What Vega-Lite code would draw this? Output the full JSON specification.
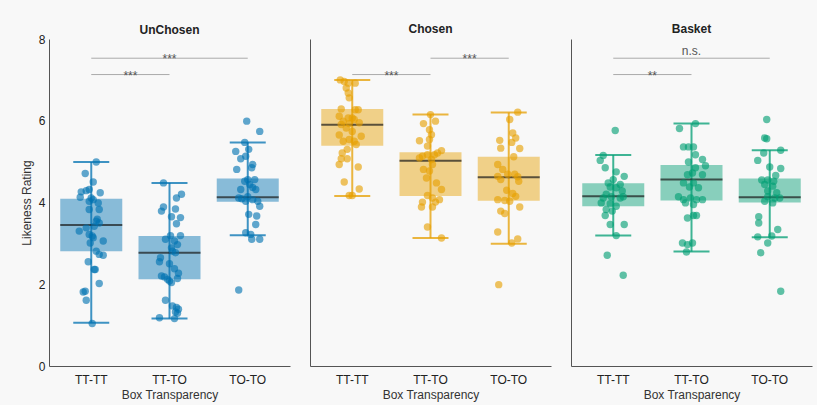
{
  "$schema": "https://vega.github.io/schema/vega-lite/v6.json",
  "padding": {"left": 20, "top": 23, "right": 5, "bottom": 5},
  "datasets": {
    "boxes": [
      {"panel": "UnChosen", "cond": "TT-TT", "lo": 1.06, "q1": 2.81, "med": 3.45, "q3": 4.09, "hi": 4.99},
      {"panel": "UnChosen", "cond": "TT-TO", "lo": 1.16, "q1": 2.12, "med": 2.77, "q3": 3.18, "hi": 4.48},
      {"panel": "UnChosen", "cond": "TO-TO", "lo": 3.20, "q1": 4.02, "med": 4.13, "q3": 4.59, "hi": 5.47},
      {"panel": "Chosen", "cond": "TT-TT", "lo": 4.16, "q1": 5.39, "med": 5.90, "q3": 6.29, "hi": 7.00},
      {"panel": "Chosen", "cond": "TT-TO", "lo": 3.13, "q1": 4.16, "med": 5.02, "q3": 5.23, "hi": 6.15},
      {"panel": "Chosen", "cond": "TO-TO", "lo": 2.99, "q1": 4.04, "med": 4.62, "q3": 5.12, "hi": 6.20},
      {"panel": "Basket", "cond": "TT-TT", "lo": 3.19, "q1": 3.91, "med": 4.15, "q3": 4.47, "hi": 5.16},
      {"panel": "Basket", "cond": "TT-TO", "lo": 2.80, "q1": 4.05, "med": 4.56, "q3": 4.92, "hi": 5.93},
      {"panel": "Basket", "cond": "TO-TO", "lo": 3.15, "q1": 4.00, "med": 4.13, "q3": 4.59, "hi": 5.28}
    ],
    "brackets": [
      {"panel": "UnChosen", "from": "TT-TT", "to": "TT-TO", "mid": "TT-TT", "span": "adjacent", "level": 7.13, "label": "***"},
      {"panel": "UnChosen", "from": "TT-TT", "to": "TO-TO", "mid": "TT-TO", "span": "wide", "level": 7.53, "label": "***"},
      {"panel": "Chosen", "from": "TT-TT", "to": "TT-TO", "mid": "TT-TT", "span": "adjacent", "level": 7.13, "label": "***"},
      {"panel": "Chosen", "from": "TT-TO", "to": "TO-TO", "mid": "TT-TO", "span": "adjacent", "level": 7.53, "label": "***"},
      {"panel": "Basket", "from": "TT-TT", "to": "TT-TO", "mid": "TT-TT", "span": "adjacent", "level": 7.13, "label": "**"},
      {"panel": "Basket", "from": "TT-TT", "to": "TO-TO", "mid": "TT-TO", "span": "wide", "level": 7.53, "label": "n.s."}
    ],
    "points": [
      {"panel":"UnChosen","cond":"TT-TT","rating":4.99,"jitter":5},
      {"panel":"UnChosen","cond":"TT-TT","rating":4.71,"jitter":-6},
      {"panel":"UnChosen","cond":"TT-TT","rating":4.50,"jitter":2},
      {"panel":"UnChosen","cond":"TT-TT","rating":4.32,"jitter":-2},
      {"panel":"UnChosen","cond":"TT-TT","rating":4.26,"jitter":-10},
      {"panel":"UnChosen","cond":"TT-TT","rating":4.29,"jitter":-5},
      {"panel":"UnChosen","cond":"TT-TT","rating":4.24,"jitter":9},
      {"panel":"UnChosen","cond":"TT-TT","rating":4.13,"jitter":-11},
      {"panel":"UnChosen","cond":"TT-TT","rating":4.11,"jitter":0},
      {"panel":"UnChosen","cond":"TT-TT","rating":4.07,"jitter":2},
      {"panel":"UnChosen","cond":"TT-TT","rating":4.03,"jitter":-2},
      {"panel":"UnChosen","cond":"TT-TT","rating":3.99,"jitter":7},
      {"panel":"UnChosen","cond":"TT-TT","rating":3.83,"jitter":-2},
      {"panel":"UnChosen","cond":"TT-TT","rating":3.83,"jitter":8},
      {"panel":"UnChosen","cond":"TT-TT","rating":3.59,"jitter":6},
      {"panel":"UnChosen","cond":"TT-TT","rating":3.50,"jitter":8},
      {"panel":"UnChosen","cond":"TT-TT","rating":3.54,"jitter":5},
      {"panel":"UnChosen","cond":"TT-TT","rating":3.42,"jitter":3},
      {"panel":"UnChosen","cond":"TT-TT","rating":3.38,"jitter":-5},
      {"panel":"UnChosen","cond":"TT-TT","rating":3.30,"jitter":-12},
      {"panel":"UnChosen","cond":"TT-TT","rating":3.22,"jitter":-2},
      {"panel":"UnChosen","cond":"TT-TT","rating":3.18,"jitter":1},
      {"panel":"UnChosen","cond":"TT-TT","rating":3.14,"jitter":2},
      {"panel":"UnChosen","cond":"TT-TT","rating":3.06,"jitter":12},
      {"panel":"UnChosen","cond":"TT-TT","rating":3.01,"jitter":-1},
      {"panel":"UnChosen","cond":"TT-TT","rating":2.81,"jitter":5},
      {"panel":"UnChosen","cond":"TT-TT","rating":2.73,"jitter":8},
      {"panel":"UnChosen","cond":"TT-TT","rating":2.71,"jitter":12},
      {"panel":"UnChosen","cond":"TT-TT","rating":2.55,"jitter":-3},
      {"panel":"UnChosen","cond":"TT-TT","rating":2.36,"jitter":3},
      {"panel":"UnChosen","cond":"TT-TT","rating":2.36,"jitter":4},
      {"panel":"UnChosen","cond":"TT-TT","rating":2.02,"jitter":8},
      {"panel":"UnChosen","cond":"TT-TT","rating":1.81,"jitter":-8},
      {"panel":"UnChosen","cond":"TT-TT","rating":1.83,"jitter":-6},
      {"panel":"UnChosen","cond":"TT-TT","rating":1.61,"jitter":-5},
      {"panel":"UnChosen","cond":"TT-TT","rating":1.04,"jitter":1},
      {"panel":"UnChosen","cond":"TT-TO","rating":4.48,"jitter":-6},
      {"panel":"UnChosen","cond":"TT-TO","rating":4.20,"jitter":12},
      {"panel":"UnChosen","cond":"TT-TO","rating":4.11,"jitter":7},
      {"panel":"UnChosen","cond":"TT-TO","rating":3.89,"jitter":-6},
      {"panel":"UnChosen","cond":"TT-TO","rating":3.79,"jitter":-8},
      {"panel":"UnChosen","cond":"TT-TO","rating":3.84,"jitter":6},
      {"panel":"UnChosen","cond":"TT-TO","rating":3.65,"jitter":2},
      {"panel":"UnChosen","cond":"TT-TO","rating":3.63,"jitter":11},
      {"panel":"UnChosen","cond":"TT-TO","rating":3.48,"jitter":7},
      {"panel":"UnChosen","cond":"TT-TO","rating":3.19,"jitter":1},
      {"panel":"UnChosen","cond":"TT-TO","rating":3.19,"jitter":11},
      {"panel":"UnChosen","cond":"TT-TO","rating":3.10,"jitter":-4},
      {"panel":"UnChosen","cond":"TT-TO","rating":3.06,"jitter":5},
      {"panel":"UnChosen","cond":"TT-TO","rating":2.97,"jitter":8},
      {"panel":"UnChosen","cond":"TT-TO","rating":2.89,"jitter":2},
      {"panel":"UnChosen","cond":"TT-TO","rating":2.81,"jitter":3},
      {"panel":"UnChosen","cond":"TT-TO","rating":2.77,"jitter":6},
      {"panel":"UnChosen","cond":"TT-TO","rating":2.65,"jitter":-9},
      {"panel":"UnChosen","cond":"TT-TO","rating":2.55,"jitter":-10},
      {"panel":"UnChosen","cond":"TT-TO","rating":2.50,"jitter":0},
      {"panel":"UnChosen","cond":"TT-TO","rating":2.38,"jitter":5},
      {"panel":"UnChosen","cond":"TT-TO","rating":2.27,"jitter":9},
      {"panel":"UnChosen","cond":"TT-TO","rating":2.20,"jitter":-8},
      {"panel":"UnChosen","cond":"TT-TO","rating":2.18,"jitter":-5},
      {"panel":"UnChosen","cond":"TT-TO","rating":2.12,"jitter":-2},
      {"panel":"UnChosen","cond":"TT-TO","rating":2.08,"jitter":0},
      {"panel":"UnChosen","cond":"TT-TO","rating":2.14,"jitter":8},
      {"panel":"UnChosen","cond":"TT-TO","rating":2.04,"jitter":2},
      {"panel":"UnChosen","cond":"TT-TO","rating":1.61,"jitter":-4},
      {"panel":"UnChosen","cond":"TT-TO","rating":1.47,"jitter":3},
      {"panel":"UnChosen","cond":"TT-TO","rating":1.43,"jitter":7},
      {"panel":"UnChosen","cond":"TT-TO","rating":1.39,"jitter":9},
      {"panel":"UnChosen","cond":"TT-TO","rating":1.32,"jitter":6},
      {"panel":"UnChosen","cond":"TT-TO","rating":1.18,"jitter":-10},
      {"panel":"UnChosen","cond":"TT-TO","rating":1.16,"jitter":5},
      {"panel":"UnChosen","cond":"TT-TO","rating":1.29,"jitter":8},
      {"panel":"UnChosen","cond":"TO-TO","rating":5.99,"jitter":-1},
      {"panel":"UnChosen","cond":"TO-TO","rating":5.74,"jitter":12},
      {"panel":"UnChosen","cond":"TO-TO","rating":5.47,"jitter":-3},
      {"panel":"UnChosen","cond":"TO-TO","rating":5.25,"jitter":-12},
      {"panel":"UnChosen","cond":"TO-TO","rating":5.30,"jitter":1},
      {"panel":"UnChosen","cond":"TO-TO","rating":5.07,"jitter":-7},
      {"panel":"UnChosen","cond":"TO-TO","rating":5.13,"jitter":-2},
      {"panel":"UnChosen","cond":"TO-TO","rating":4.93,"jitter":5},
      {"panel":"UnChosen","cond":"TO-TO","rating":4.85,"jitter":4},
      {"panel":"UnChosen","cond":"TO-TO","rating":4.81,"jitter":-11},
      {"panel":"UnChosen","cond":"TO-TO","rating":4.56,"jitter":0},
      {"panel":"UnChosen","cond":"TO-TO","rating":4.56,"jitter":7},
      {"panel":"UnChosen","cond":"TO-TO","rating":4.52,"jitter":-3},
      {"panel":"UnChosen","cond":"TO-TO","rating":4.44,"jitter":2},
      {"panel":"UnChosen","cond":"TO-TO","rating":4.37,"jitter":5},
      {"panel":"UnChosen","cond":"TO-TO","rating":4.32,"jitter":-7},
      {"panel":"UnChosen","cond":"TO-TO","rating":4.32,"jitter":8},
      {"panel":"UnChosen","cond":"TO-TO","rating":4.11,"jitter":-9},
      {"panel":"UnChosen","cond":"TO-TO","rating":4.09,"jitter":-6},
      {"panel":"UnChosen","cond":"TO-TO","rating":4.14,"jitter":0},
      {"panel":"UnChosen","cond":"TO-TO","rating":4.07,"jitter":5},
      {"panel":"UnChosen","cond":"TO-TO","rating":4.03,"jitter":10},
      {"panel":"UnChosen","cond":"TO-TO","rating":4.03,"jitter":-2},
      {"panel":"UnChosen","cond":"TO-TO","rating":3.91,"jitter":12},
      {"panel":"UnChosen","cond":"TO-TO","rating":3.71,"jitter":1},
      {"panel":"UnChosen","cond":"TO-TO","rating":3.67,"jitter":9},
      {"panel":"UnChosen","cond":"TO-TO","rating":3.46,"jitter":8},
      {"panel":"UnChosen","cond":"TO-TO","rating":3.26,"jitter":-2},
      {"panel":"UnChosen","cond":"TO-TO","rating":3.22,"jitter":3},
      {"panel":"UnChosen","cond":"TO-TO","rating":3.10,"jitter":4},
      {"panel":"UnChosen","cond":"TO-TO","rating":3.10,"jitter":12},
      {"panel":"UnChosen","cond":"TO-TO","rating":1.86,"jitter":-9},
      {"panel":"Chosen","cond":"TT-TT","rating":7.00,"jitter":-12},
      {"panel":"Chosen","cond":"TT-TT","rating":6.96,"jitter":-8},
      {"panel":"Chosen","cond":"TT-TT","rating":6.92,"jitter":-4},
      {"panel":"Chosen","cond":"TT-TT","rating":6.92,"jitter":3},
      {"panel":"Chosen","cond":"TT-TT","rating":6.80,"jitter":-6},
      {"panel":"Chosen","cond":"TT-TT","rating":6.68,"jitter":-4},
      {"panel":"Chosen","cond":"TT-TT","rating":6.56,"jitter":-3},
      {"panel":"Chosen","cond":"TT-TT","rating":6.29,"jitter":-11},
      {"panel":"Chosen","cond":"TT-TT","rating":6.27,"jitter":3},
      {"panel":"Chosen","cond":"TT-TT","rating":6.27,"jitter":6},
      {"panel":"Chosen","cond":"TT-TT","rating":6.11,"jitter":-13},
      {"panel":"Chosen","cond":"TT-TT","rating":6.07,"jitter":-4},
      {"panel":"Chosen","cond":"TT-TT","rating":6.07,"jitter":0},
      {"panel":"Chosen","cond":"TT-TT","rating":5.99,"jitter":-9},
      {"panel":"Chosen","cond":"TT-TT","rating":6.03,"jitter":2},
      {"panel":"Chosen","cond":"TT-TT","rating":5.93,"jitter":-3},
      {"panel":"Chosen","cond":"TT-TT","rating":5.95,"jitter":7},
      {"panel":"Chosen","cond":"TT-TT","rating":5.91,"jitter":-11},
      {"panel":"Chosen","cond":"TT-TT","rating":5.82,"jitter":-6},
      {"panel":"Chosen","cond":"TT-TT","rating":5.74,"jitter":0},
      {"panel":"Chosen","cond":"TT-TT","rating":5.65,"jitter":-13},
      {"panel":"Chosen","cond":"TT-TT","rating":5.62,"jitter":9},
      {"panel":"Chosen","cond":"TT-TT","rating":5.54,"jitter":-3},
      {"panel":"Chosen","cond":"TT-TT","rating":5.50,"jitter":-9},
      {"panel":"Chosen","cond":"TT-TT","rating":5.50,"jitter":2},
      {"panel":"Chosen","cond":"TT-TT","rating":5.42,"jitter":4},
      {"panel":"Chosen","cond":"TT-TT","rating":5.30,"jitter":-5},
      {"panel":"Chosen","cond":"TT-TT","rating":5.21,"jitter":-10},
      {"panel":"Chosen","cond":"TT-TT","rating":5.07,"jitter":-11},
      {"panel":"Chosen","cond":"TT-TT","rating":5.07,"jitter":-5},
      {"panel":"Chosen","cond":"TT-TT","rating":4.93,"jitter":-13},
      {"panel":"Chosen","cond":"TT-TT","rating":4.87,"jitter":6},
      {"panel":"Chosen","cond":"TT-TT","rating":4.50,"jitter":-8},
      {"panel":"Chosen","cond":"TT-TT","rating":4.33,"jitter":7},
      {"panel":"Chosen","cond":"TT-TT","rating":4.17,"jitter":-3},
      {"panel":"Chosen","cond":"TT-TT","rating":4.17,"jitter":0},
      {"panel":"Chosen","cond":"TT-TO","rating":6.15,"jitter":0},
      {"panel":"Chosen","cond":"TT-TO","rating":5.93,"jitter":-7},
      {"panel":"Chosen","cond":"TT-TO","rating":5.99,"jitter":5},
      {"panel":"Chosen","cond":"TT-TO","rating":5.78,"jitter":-1},
      {"panel":"Chosen","cond":"TT-TO","rating":5.66,"jitter":1},
      {"panel":"Chosen","cond":"TT-TO","rating":5.51,"jitter":-11},
      {"panel":"Chosen","cond":"TT-TO","rating":5.54,"jitter":-1},
      {"panel":"Chosen","cond":"TT-TO","rating":5.38,"jitter":-3},
      {"panel":"Chosen","cond":"TT-TO","rating":5.27,"jitter":11},
      {"panel":"Chosen","cond":"TT-TO","rating":5.13,"jitter":-8},
      {"panel":"Chosen","cond":"TT-TO","rating":5.17,"jitter":-3},
      {"panel":"Chosen","cond":"TT-TO","rating":5.17,"jitter":4},
      {"panel":"Chosen","cond":"TT-TO","rating":5.21,"jitter":7},
      {"panel":"Chosen","cond":"TT-TO","rating":5.09,"jitter":-11},
      {"panel":"Chosen","cond":"TT-TO","rating":5.05,"jitter":1},
      {"panel":"Chosen","cond":"TT-TO","rating":4.93,"jitter":2},
      {"panel":"Chosen","cond":"TT-TO","rating":4.81,"jitter":-7},
      {"panel":"Chosen","cond":"TT-TO","rating":4.77,"jitter":-1},
      {"panel":"Chosen","cond":"TT-TO","rating":4.60,"jitter":-4},
      {"panel":"Chosen","cond":"TT-TO","rating":4.48,"jitter":6},
      {"panel":"Chosen","cond":"TT-TO","rating":4.32,"jitter":11},
      {"panel":"Chosen","cond":"TT-TO","rating":4.17,"jitter":-3},
      {"panel":"Chosen","cond":"TT-TO","rating":4.11,"jitter":2},
      {"panel":"Chosen","cond":"TT-TO","rating":4.07,"jitter":9},
      {"panel":"Chosen","cond":"TT-TO","rating":4.01,"jitter":-8},
      {"panel":"Chosen","cond":"TT-TO","rating":4.01,"jitter":5},
      {"panel":"Chosen","cond":"TT-TO","rating":3.89,"jitter":-9},
      {"panel":"Chosen","cond":"TT-TO","rating":3.89,"jitter":2},
      {"panel":"Chosen","cond":"TT-TO","rating":3.40,"jitter":-3},
      {"panel":"Chosen","cond":"TT-TO","rating":3.13,"jitter":11},
      {"panel":"Chosen","cond":"TO-TO","rating":6.21,"jitter":9},
      {"panel":"Chosen","cond":"TO-TO","rating":6.03,"jitter":1},
      {"panel":"Chosen","cond":"TO-TO","rating":5.70,"jitter":4},
      {"panel":"Chosen","cond":"TO-TO","rating":5.58,"jitter":7},
      {"panel":"Chosen","cond":"TO-TO","rating":5.52,"jitter":-9},
      {"panel":"Chosen","cond":"TO-TO","rating":5.47,"jitter":3},
      {"panel":"Chosen","cond":"TO-TO","rating":5.33,"jitter":-8},
      {"panel":"Chosen","cond":"TO-TO","rating":5.32,"jitter":11},
      {"panel":"Chosen","cond":"TO-TO","rating":5.12,"jitter":5},
      {"panel":"Chosen","cond":"TO-TO","rating":4.93,"jitter":-11},
      {"panel":"Chosen","cond":"TO-TO","rating":4.81,"jitter":-6},
      {"panel":"Chosen","cond":"TO-TO","rating":4.64,"jitter":-11},
      {"panel":"Chosen","cond":"TO-TO","rating":4.69,"jitter":-1},
      {"panel":"Chosen","cond":"TO-TO","rating":4.69,"jitter":6},
      {"panel":"Chosen","cond":"TO-TO","rating":4.63,"jitter":9},
      {"panel":"Chosen","cond":"TO-TO","rating":4.52,"jitter":10},
      {"panel":"Chosen","cond":"TO-TO","rating":4.56,"jitter":-8},
      {"panel":"Chosen","cond":"TO-TO","rating":4.30,"jitter":-2},
      {"panel":"Chosen","cond":"TO-TO","rating":4.22,"jitter":4},
      {"panel":"Chosen","cond":"TO-TO","rating":4.15,"jitter":7},
      {"panel":"Chosen","cond":"TO-TO","rating":4.07,"jitter":-11},
      {"panel":"Chosen","cond":"TO-TO","rating":4.05,"jitter":-4},
      {"panel":"Chosen","cond":"TO-TO","rating":4.03,"jitter":1},
      {"panel":"Chosen","cond":"TO-TO","rating":3.89,"jitter":11},
      {"panel":"Chosen","cond":"TO-TO","rating":3.79,"jitter":-8},
      {"panel":"Chosen","cond":"TO-TO","rating":3.73,"jitter":-4},
      {"panel":"Chosen","cond":"TO-TO","rating":3.28,"jitter":-11},
      {"panel":"Chosen","cond":"TO-TO","rating":3.11,"jitter":9},
      {"panel":"Chosen","cond":"TO-TO","rating":3.01,"jitter":3},
      {"panel":"Chosen","cond":"TO-TO","rating":1.99,"jitter":-10},
      {"panel":"Basket","cond":"TT-TT","rating":5.76,"jitter":2},
      {"panel":"Basket","cond":"TT-TT","rating":5.15,"jitter":-10},
      {"panel":"Basket","cond":"TT-TT","rating":5.03,"jitter":-13},
      {"panel":"Basket","cond":"TT-TT","rating":4.85,"jitter":-8},
      {"panel":"Basket","cond":"TT-TT","rating":4.75,"jitter":3},
      {"panel":"Basket","cond":"TT-TT","rating":4.64,"jitter":11},
      {"panel":"Basket","cond":"TT-TT","rating":4.56,"jitter":0},
      {"panel":"Basket","cond":"TT-TT","rating":4.48,"jitter":-5},
      {"panel":"Basket","cond":"TT-TT","rating":4.44,"jitter":7},
      {"panel":"Basket","cond":"TT-TT","rating":4.38,"jitter":-3},
      {"panel":"Basket","cond":"TT-TT","rating":4.36,"jitter":3},
      {"panel":"Basket","cond":"TT-TT","rating":4.28,"jitter":9},
      {"panel":"Basket","cond":"TT-TT","rating":4.20,"jitter":-7},
      {"panel":"Basket","cond":"TT-TT","rating":4.11,"jitter":-10},
      {"panel":"Basket","cond":"TT-TT","rating":4.14,"jitter":-2},
      {"panel":"Basket","cond":"TT-TT","rating":4.11,"jitter":7},
      {"panel":"Basket","cond":"TT-TT","rating":4.14,"jitter":10},
      {"panel":"Basket","cond":"TT-TT","rating":3.99,"jitter":-12},
      {"panel":"Basket","cond":"TT-TT","rating":3.97,"jitter":-3},
      {"panel":"Basket","cond":"TT-TT","rating":3.91,"jitter":3},
      {"panel":"Basket","cond":"TT-TT","rating":3.83,"jitter":-7},
      {"panel":"Basket","cond":"TT-TT","rating":3.79,"jitter":-1},
      {"panel":"Basket","cond":"TT-TT","rating":3.68,"jitter":-8},
      {"panel":"Basket","cond":"TT-TT","rating":3.46,"jitter":-3},
      {"panel":"Basket","cond":"TT-TT","rating":3.46,"jitter":11},
      {"panel":"Basket","cond":"TT-TT","rating":3.19,"jitter":3},
      {"panel":"Basket","cond":"TT-TT","rating":2.71,"jitter":-6},
      {"panel":"Basket","cond":"TT-TT","rating":2.22,"jitter":10},
      {"panel":"Basket","cond":"TT-TO","rating":5.93,"jitter":4},
      {"panel":"Basket","cond":"TT-TO","rating":5.81,"jitter":-12},
      {"panel":"Basket","cond":"TT-TO","rating":5.36,"jitter":-8},
      {"panel":"Basket","cond":"TT-TO","rating":5.36,"jitter":-3},
      {"panel":"Basket","cond":"TT-TO","rating":5.36,"jitter":2},
      {"panel":"Basket","cond":"TT-TO","rating":5.17,"jitter":4},
      {"panel":"Basket","cond":"TT-TO","rating":5.05,"jitter":11},
      {"panel":"Basket","cond":"TT-TO","rating":4.99,"jitter":-3},
      {"panel":"Basket","cond":"TT-TO","rating":4.90,"jitter":14},
      {"panel":"Basket","cond":"TT-TO","rating":4.85,"jitter":4},
      {"panel":"Basket","cond":"TT-TO","rating":4.68,"jitter":-4},
      {"panel":"Basket","cond":"TT-TO","rating":4.72,"jitter":1},
      {"panel":"Basket","cond":"TT-TO","rating":4.68,"jitter":11},
      {"panel":"Basket","cond":"TT-TO","rating":4.48,"jitter":-8},
      {"panel":"Basket","cond":"TT-TO","rating":4.48,"jitter":2},
      {"panel":"Basket","cond":"TT-TO","rating":4.38,"jitter":-2},
      {"panel":"Basket","cond":"TT-TO","rating":4.36,"jitter":7},
      {"panel":"Basket","cond":"TT-TO","rating":4.14,"jitter":-13},
      {"panel":"Basket","cond":"TT-TO","rating":4.07,"jitter":-8},
      {"panel":"Basket","cond":"TT-TO","rating":4.11,"jitter":-1},
      {"panel":"Basket","cond":"TT-TO","rating":4.07,"jitter":5},
      {"panel":"Basket","cond":"TT-TO","rating":4.07,"jitter":11},
      {"panel":"Basket","cond":"TT-TO","rating":3.99,"jitter":-6},
      {"panel":"Basket","cond":"TT-TO","rating":3.95,"jitter":2},
      {"panel":"Basket","cond":"TT-TO","rating":3.68,"jitter":2},
      {"panel":"Basket","cond":"TT-TO","rating":3.62,"jitter":-4},
      {"panel":"Basket","cond":"TT-TO","rating":3.68,"jitter":5},
      {"panel":"Basket","cond":"TT-TO","rating":3.01,"jitter":-9},
      {"panel":"Basket","cond":"TT-TO","rating":3.01,"jitter":1},
      {"panel":"Basket","cond":"TT-TO","rating":2.97,"jitter":-4},
      {"panel":"Basket","cond":"TT-TO","rating":2.79,"jitter":-5},
      {"panel":"Basket","cond":"TO-TO","rating":6.03,"jitter":-3},
      {"panel":"Basket","cond":"TO-TO","rating":5.58,"jitter":-5},
      {"panel":"Basket","cond":"TO-TO","rating":5.56,"jitter":-3},
      {"panel":"Basket","cond":"TO-TO","rating":5.28,"jitter":11},
      {"panel":"Basket","cond":"TO-TO","rating":5.21,"jitter":-6},
      {"panel":"Basket","cond":"TO-TO","rating":5.03,"jitter":-12},
      {"panel":"Basket","cond":"TO-TO","rating":4.87,"jitter":0},
      {"panel":"Basket","cond":"TO-TO","rating":4.83,"jitter":11},
      {"panel":"Basket","cond":"TO-TO","rating":4.66,"jitter":6},
      {"panel":"Basket","cond":"TO-TO","rating":4.55,"jitter":-8},
      {"panel":"Basket","cond":"TO-TO","rating":4.55,"jitter":-2},
      {"panel":"Basket","cond":"TO-TO","rating":4.52,"jitter":4},
      {"panel":"Basket","cond":"TO-TO","rating":4.44,"jitter":-5},
      {"panel":"Basket","cond":"TO-TO","rating":4.40,"jitter":3},
      {"panel":"Basket","cond":"TO-TO","rating":4.28,"jitter":-2},
      {"panel":"Basket","cond":"TO-TO","rating":4.24,"jitter":7},
      {"panel":"Basket","cond":"TO-TO","rating":4.14,"jitter":-2},
      {"panel":"Basket","cond":"TO-TO","rating":4.11,"jitter":5},
      {"panel":"Basket","cond":"TO-TO","rating":4.11,"jitter":10},
      {"panel":"Basket","cond":"TO-TO","rating":4.03,"jitter":-5},
      {"panel":"Basket","cond":"TO-TO","rating":3.99,"jitter":3},
      {"panel":"Basket","cond":"TO-TO","rating":3.65,"jitter":-11},
      {"panel":"Basket","cond":"TO-TO","rating":3.50,"jitter":-11},
      {"panel":"Basket","cond":"TO-TO","rating":3.34,"jitter":8},
      {"panel":"Basket","cond":"TO-TO","rating":3.16,"jitter":-12},
      {"panel":"Basket","cond":"TO-TO","rating":3.18,"jitter":2},
      {"panel":"Basket","cond":"TO-TO","rating":3.01,"jitter":-2},
      {"panel":"Basket","cond":"TO-TO","rating":2.77,"jitter":-9},
      {"panel":"Basket","cond":"TO-TO","rating":1.83,"jitter":11}
    ]
  },
  "hconcat": [
    {
      "width": 241, "height": 327,
      "title": {"text": "UnChosen", "offset": -4},
      "encoding": {
        "x": {"field": "cond", "type": "nominal", "scale": {"domain": ["TT-TT", "TT-TO", "TO-TO"], "paddingInner": 0, "paddingOuter": 0.04}, "axis": {"title": "Box Transparency", "labelAngle": 0}},
        "color": {"field": "panel", "type": "nominal", "scale": {"domain": ["UnChosen", "Chosen", "Basket"], "range": ["#0072B2", "#E69F00", "#009E73"]}, "legend": null}
      },
      "layer": [
        {"data": {"name": "boxes"}, "transform": [{"filter": "datum.panel == 'UnChosen'"}], "mark": {"type": "rule", "strokeWidth": 2, "opacity": 0.75},
         "encoding": {"y": {"field": "lo", "type": "quantitative", "scale": {"domain": [0, 8], "nice": false}, "axis": {"title": "Likeness Rating", "values": [0, 2, 4, 6, 8], "labelFlush": false, "labelPadding": 4, "titlePadding": 5}}, "y2": {"field": "hi"}}},
        {"data": {"name": "boxes"}, "transform": [{"filter": "datum.panel == 'UnChosen'"}], "mark": {"type": "tick", "size": 36, "thickness": 2, "opacity": 0.75}, "encoding": {"y": {"field": "lo", "type": "quantitative"}}},
        {"data": {"name": "boxes"}, "transform": [{"filter": "datum.panel == 'UnChosen'"}], "mark": {"type": "tick", "size": 36, "thickness": 2, "opacity": 0.75}, "encoding": {"y": {"field": "hi", "type": "quantitative"}}},
        {"data": {"name": "boxes"}, "transform": [{"filter": "datum.panel == 'UnChosen'"}], "mark": {"type": "bar", "size": 62, "opacity": 0.45}, "encoding": {"y": {"field": "q1", "type": "quantitative"}, "y2": {"field": "q3"}}},
        {"data": {"name": "boxes"}, "transform": [{"filter": "datum.panel == 'UnChosen'"}], "mark": {"type": "tick", "size": 62, "thickness": 2}, "encoding": {"y": {"field": "med", "type": "quantitative"}, "color": {"value": "#1a1a1a"}}},
        {"data": {"name": "points"}, "transform": [{"filter": "datum.panel == 'UnChosen'"}], "mark": {"type": "circle", "size": 55, "opacity": 0.62},
         "encoding": {"x": {"field": "cond", "type": "nominal", "bandPosition": 0}, "xOffset": {"field": "jitter", "type": "quantitative", "scale": {"domain": [-15, 15], "range": [24.1, 54.1]}}, "y": {"field": "rating", "type": "quantitative"}}},
        {"data": {"name": "brackets"}, "transform": [{"filter": "datum.panel == 'UnChosen'"}], "mark": {"type": "rule", "strokeWidth": 1},
         "encoding": {"x": {"field": "from", "type": "nominal"}, "x2": {"field": "to"}, "y": {"field": "level", "type": "quantitative"}, "color": {"value": "#aaaaaa"}}},
        {"data": {"name": "brackets"}, "transform": [{"filter": "datum.panel == 'UnChosen' && datum.span == 'adjacent'"}], "mark": {"type": "text", "fontSize": 12, "baseline": "alphabetic", "dy": 5},
         "encoding": {"x": {"field": "mid", "type": "nominal", "bandPosition": 1}, "y": {"field": "level", "type": "quantitative"}, "text": {"field": "label"}, "color": {"value": "#555555"}}},
        {"data": {"name": "brackets"}, "transform": [{"filter": "datum.panel == 'UnChosen' && datum.span == 'wide'"}], "mark": {"type": "text", "fontSize": 12, "baseline": "alphabetic", "dy": 5},
         "encoding": {"x": {"field": "mid", "type": "nominal", "bandPosition": 0.5}, "y": {"field": "level", "type": "quantitative"}, "text": {"field": "label"}, "color": {"value": "#555555"}}}
      ]
    },
    {
      "width": 241, "height": 327,
      "title": {"text": "Chosen", "offset": 3},
      "encoding": {
        "x": {"field": "cond", "type": "nominal", "scale": {"domain": ["TT-TT", "TT-TO", "TO-TO"], "paddingInner": 0, "paddingOuter": 0.04}, "axis": {"title": "Box Transparency", "labelAngle": 0}},
        "color": {"field": "panel", "type": "nominal", "scale": {"domain": ["UnChosen", "Chosen", "Basket"], "range": ["#0072B2", "#E69F00", "#009E73"]}, "legend": null}
      },
      "layer": [
        {"data": {"name": "boxes"}, "transform": [{"filter": "datum.panel == 'Chosen'"}], "mark": {"type": "rule", "strokeWidth": 2, "opacity": 0.75},
         "encoding": {"y": {"field": "lo", "type": "quantitative", "scale": {"domain": [0, 8], "nice": false}, "axis": {"title": null, "labels": false, "ticks": false, "values": [0, 2, 4, 6, 8]}}, "y2": {"field": "hi"}}},
        {"data": {"name": "boxes"}, "transform": [{"filter": "datum.panel == 'Chosen'"}], "mark": {"type": "tick", "size": 36, "thickness": 2, "opacity": 0.75}, "encoding": {"y": {"field": "lo", "type": "quantitative"}}},
        {"data": {"name": "boxes"}, "transform": [{"filter": "datum.panel == 'Chosen'"}], "mark": {"type": "tick", "size": 36, "thickness": 2, "opacity": 0.75}, "encoding": {"y": {"field": "hi", "type": "quantitative"}}},
        {"data": {"name": "boxes"}, "transform": [{"filter": "datum.panel == 'Chosen'"}], "mark": {"type": "bar", "size": 62, "opacity": 0.45}, "encoding": {"y": {"field": "q1", "type": "quantitative"}, "y2": {"field": "q3"}}},
        {"data": {"name": "boxes"}, "transform": [{"filter": "datum.panel == 'Chosen'"}], "mark": {"type": "tick", "size": 62, "thickness": 2}, "encoding": {"y": {"field": "med", "type": "quantitative"}, "color": {"value": "#1a1a1a"}}},
        {"data": {"name": "points"}, "transform": [{"filter": "datum.panel == 'Chosen'"}], "mark": {"type": "circle", "size": 55, "opacity": 0.62},
         "encoding": {"x": {"field": "cond", "type": "nominal", "bandPosition": 0}, "xOffset": {"field": "jitter", "type": "quantitative", "scale": {"domain": [-15, 15], "range": [24.1, 54.1]}}, "y": {"field": "rating", "type": "quantitative"}}},
        {"data": {"name": "brackets"}, "transform": [{"filter": "datum.panel == 'Chosen'"}], "mark": {"type": "rule", "strokeWidth": 1},
         "encoding": {"x": {"field": "from", "type": "nominal"}, "x2": {"field": "to"}, "y": {"field": "level", "type": "quantitative"}, "color": {"value": "#aaaaaa"}}},
        {"data": {"name": "brackets"}, "transform": [{"filter": "datum.panel == 'Chosen' && datum.span == 'adjacent'"}], "mark": {"type": "text", "fontSize": 12, "baseline": "alphabetic", "dy": 5},
         "encoding": {"x": {"field": "mid", "type": "nominal", "bandPosition": 1}, "y": {"field": "level", "type": "quantitative"}, "text": {"field": "label"}, "color": {"value": "#555555"}}}
      ]
    },
    {
      "width": 241, "height": 327,
      "title": {"text": "Basket", "offset": 3},
      "encoding": {
        "x": {"field": "cond", "type": "nominal", "scale": {"domain": ["TT-TT", "TT-TO", "TO-TO"], "paddingInner": 0, "paddingOuter": 0.04}, "axis": {"title": "Box Transparency", "labelAngle": 0}},
        "color": {"field": "panel", "type": "nominal", "scale": {"domain": ["UnChosen", "Chosen", "Basket"], "range": ["#0072B2", "#E69F00", "#009E73"]}, "legend": null}
      },
      "layer": [
        {"data": {"name": "boxes"}, "transform": [{"filter": "datum.panel == 'Basket'"}], "mark": {"type": "rule", "strokeWidth": 2, "opacity": 0.75},
         "encoding": {"y": {"field": "lo", "type": "quantitative", "scale": {"domain": [0, 8], "nice": false}, "axis": {"title": null, "labels": false, "ticks": false, "values": [0, 2, 4, 6, 8]}}, "y2": {"field": "hi"}}},
        {"data": {"name": "boxes"}, "transform": [{"filter": "datum.panel == 'Basket'"}], "mark": {"type": "tick", "size": 36, "thickness": 2, "opacity": 0.75}, "encoding": {"y": {"field": "lo", "type": "quantitative"}}},
        {"data": {"name": "boxes"}, "transform": [{"filter": "datum.panel == 'Basket'"}], "mark": {"type": "tick", "size": 36, "thickness": 2, "opacity": 0.75}, "encoding": {"y": {"field": "hi", "type": "quantitative"}}},
        {"data": {"name": "boxes"}, "transform": [{"filter": "datum.panel == 'Basket'"}], "mark": {"type": "bar", "size": 62, "opacity": 0.45}, "encoding": {"y": {"field": "q1", "type": "quantitative"}, "y2": {"field": "q3"}}},
        {"data": {"name": "boxes"}, "transform": [{"filter": "datum.panel == 'Basket'"}], "mark": {"type": "tick", "size": 62, "thickness": 2}, "encoding": {"y": {"field": "med", "type": "quantitative"}, "color": {"value": "#1a1a1a"}}},
        {"data": {"name": "points"}, "transform": [{"filter": "datum.panel == 'Basket'"}], "mark": {"type": "circle", "size": 55, "opacity": 0.62},
         "encoding": {"x": {"field": "cond", "type": "nominal", "bandPosition": 0}, "xOffset": {"field": "jitter", "type": "quantitative", "scale": {"domain": [-15, 15], "range": [24.1, 54.1]}}, "y": {"field": "rating", "type": "quantitative"}}},
        {"data": {"name": "brackets"}, "transform": [{"filter": "datum.panel == 'Basket'"}], "mark": {"type": "rule", "strokeWidth": 1},
         "encoding": {"x": {"field": "from", "type": "nominal"}, "x2": {"field": "to"}, "y": {"field": "level", "type": "quantitative"}, "color": {"value": "#aaaaaa"}}},
        {"data": {"name": "brackets"}, "transform": [{"filter": "datum.panel == 'Basket' && datum.span == 'adjacent'"}], "mark": {"type": "text", "fontSize": 12, "baseline": "alphabetic", "dy": 5},
         "encoding": {"x": {"field": "mid", "type": "nominal", "bandPosition": 1}, "y": {"field": "level", "type": "quantitative"}, "text": {"field": "label"}, "color": {"value": "#555555"}}},
        {"data": {"name": "brackets"}, "transform": [{"filter": "datum.panel == 'Basket' && datum.span == 'wide'"}], "mark": {"type": "text", "fontSize": 12, "baseline": "alphabetic", "dy": -3},
         "encoding": {"x": {"field": "mid", "type": "nominal", "bandPosition": 0.5}, "y": {"field": "level", "type": "quantitative"}, "text": {"field": "label"}, "color": {"value": "#555555"}}}
      ]
    }
  ],
  "spacing": 20,
  "resolve": {"scale": {"x": "independent", "y": "independent", "color": "shared"}},
  "config": {
    "background": "#f8f8f8",
    "font": "Liberation Sans",
    "view": {"stroke": null},
    "axis": {"grid": false, "ticks": false, "domainColor": "#555555", "labelFontSize": 12, "titleFontSize": 12, "labelColor": "#222222", "titleColor": "#333333", "titleFontWeight": "normal", "labelPadding": 8, "titlePadding": 4},
    "title": {"fontSize": 12, "fontWeight": "bold", "color": "#222222", "frame": "group", "anchor": "middle"}
  }
}
